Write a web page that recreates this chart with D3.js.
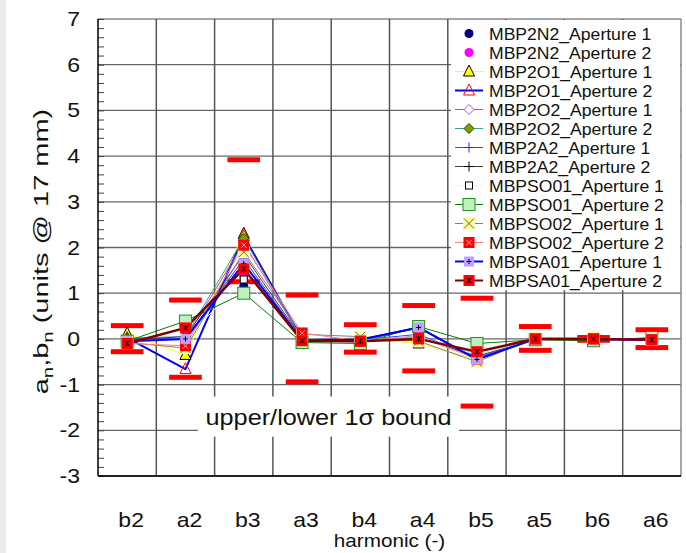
<!DOCTYPE html>
<html>
<head>
<meta charset="utf-8">
<script src="https://cdn.jsdelivr.net/npm/d3@7"></script>
<style>
  body { margin: 0; background: #fff; }
  text { font-family: "Liberation Sans", Arial, sans-serif; }
</style>
</head>
<body>
<div id="chart"></div>
<script>
const harmonics = ["b2", "a2", "b3", "a3", "b4", "a4", "b5", "a5", "b6", "a6"];
const yTicks = [-3, -2, -1, 0, 1, 2, 3, 4, 5, 6, 7];

// 1 sigma bounds per harmonic
const upperBound = [0.29, 0.85, 3.92, 0.96, 0.31, 0.73, 0.89, 0.27, 0.03, 0.20];
const lowerBound = [-0.28, -0.84, 1.25, -0.94, -0.29, -0.70, -1.47, -0.25, -0.03, -0.19];

// measured harmonics, one array per magnet aperture
const mbp2n2A1 = [-0.05, 0.05, 1.16, 0.00, -0.03, 0.05, -0.35, 0.00, 0.00, -0.02];
const mbp2n2A2 = [-0.05, 0.00, 1.36, 0.00, -0.03, 0.05, -0.35, 0.00, 0.00, -0.02];
const mbp2o1A1 = [0.12, -0.35, 2.30, 0.00, 0.03, -0.10, -0.45, 0.00, 0.00, -0.02];
const mbp2o1A2 = [0.02, -0.66, 2.25, 0.00, -0.02, 0.25, -0.45, 0.00, 0.00, -0.02];
const mbp2o2A1 = [0.00, 0.00, 2.10, 0.00, -0.02, 0.05, -0.40, 0.00, 0.00, -0.02];
const mbp2o2A2 = [0.02, 0.05, 2.20, 0.00, -0.03, 0.05, -0.35, 0.00, 0.00, -0.02];
const mbp2a2A1 = [0.00, 0.00, 1.75, -0.02, -0.02, 0.10, -0.42, 0.00, 0.00, -0.02];
const mbp2a2A2 = [-0.02, 0.05, 1.85, 0.00, -0.02, 0.05, -0.38, 0.00, 0.00, -0.02];
const mbpso01A1 = [-0.05, 0.00, 1.30, 0.00, -0.02, 0.05, -0.35, 0.00, 0.00, -0.02];
const mbpso01A2 = [-0.05, 0.39, 1.00, -0.08, -0.10, 0.27, -0.10, -0.02, -0.04, 0.03];
const mbpso02A1 = [-0.08, -0.20, 1.90, 0.10, 0.05, -0.05, -0.50, 0.02, 0.02, -0.02];
const mbpso02A2 = [-0.10, -0.15, 2.05, 0.13, -0.05, 0.05, -0.44, 0.00, 0.00, -0.02];
const mbpsa01A1 = [-0.05, 0.00, 1.65, -0.03, -0.02, 0.25, -0.45, 0.00, 0.00, -0.02];
const mbpsa01A2 = [-0.10, 0.24, 1.53, -0.04, -0.05, 0.00, -0.28, 0.00, 0.00, -0.02];

const series = [
  { name: "MBP2N2_Aperture 1", values: mbp2n2A1, line: null, lw: 0, marker: "circle", fill: "#000080", stroke: "#000080", size: 9 },
  { name: "MBP2N2_Aperture 2", values: mbp2n2A2, line: null, lw: 0, marker: "circle", fill: "#ff00ff", stroke: "#ff00ff", size: 9 },
  { name: "MBP2O1_Aperture 1", values: mbp2o1A1, line: "#ffff00", lw: 1, marker: "triangle", fill: "#ffff00", stroke: "#000", size: 11 },
  { name: "MBP2O1_Aperture 2", values: mbp2o1A2, line: "#0000ff", lw: 2, marker: "triangle", fill: "none", stroke: "#ff0000", size: 11 },
  { name: "MBP2O2_Aperture 1", values: mbp2o2A1, line: "#b050c0", lw: 1, marker: "diamond", fill: "#fff", stroke: "#b050c0", size: 10 },
  { name: "MBP2O2_Aperture 2", values: mbp2o2A2, line: "#40a0a0", lw: 1, marker: "diamond", fill: "#80a000", stroke: "#204000", size: 10 },
  { name: "MBP2A2_Aperture 1", values: mbp2a2A1, line: "#4040ff", lw: 1, marker: "plus", fill: "none", stroke: "#2020ff", size: 10 },
  { name: "MBP2A2_Aperture 2", values: mbp2a2A2, line: "#404040", lw: 1, marker: "plus", fill: "none", stroke: "#000", size: 10 },
  { name: "MBPSO01_Aperture 1", values: mbpso01A1, line: "#d8ffff", lw: 1, marker: "square", fill: "#fff", stroke: "#000", size: 7 },
  { name: "MBPSO01_Aperture 2", values: mbpso01A2, line: "#008000", lw: 1, marker: "square", fill: "#c0f0c0", stroke: "#209020", size: 12 },
  { name: "MBPSO02_Aperture 1", values: mbpso02A1, line: "#808080", lw: 1, marker: "xbox", fill: "#ffff99", stroke: "#606060", size: 12 },
  { name: "MBPSO02_Aperture 2", values: mbpso02A2, line: "#ff8080", lw: 1, marker: "sqx", fill: "#ff0000", stroke: "#ffb0b0", size: 11 },
  { name: "MBPSA01_Aperture 1", values: mbpsa01A1, line: "#0000ff", lw: 2, marker: "sqplus", fill: "#c0a0ff", stroke: "#000", size: 10 },
  { name: "MBPSA01_Aperture 2", values: mbpsa01A2, line: "#800000", lw: 2.5, marker: "sqstar", fill: "#ff0000", stroke: "#000", size: 11 }
];

const W = 686, H = 553;
const margin = { top: 19, right: 5, bottom: 77, left: 98 };
const stretch = 1.15;

const svg = d3.select("#chart").append("svg")
  .attr("width", W)
  .attr("height", H);

svg.append("rect").attr("width", W).attr("height", H).attr("fill", "#fff");
svg.append("rect").attr("width", 6).attr("height", H).attr("fill", "#ebebeb");

const x = d3.scaleBand().domain(harmonics).range([margin.left, W - margin.right]).padding(0);
const y = d3.scaleLinear().domain([-3, 7]).range([H - margin.bottom, margin.top]);
const cx = (d) => x(d) + x.bandwidth() / 2;

// grid
const grid = svg.append("g");
grid.selectAll(".hg").data(yTicks).join("line")
  .attr("x1", margin.left).attr("x2", W - margin.right)
  .attr("y1", (d) => y(d)).attr("y2", (d) => y(d))
  .attr("stroke", (d) => (d === 7 ? "#888" : "#666"))
  .attr("stroke-width", 1.3);
grid.selectAll(".vg").data(harmonics).join("line")
  .attr("x1", (d) => x(d) + x.bandwidth()).attr("x2", (d) => x(d) + x.bandwidth())
  .attr("y1", y(7)).attr("y2", y(-3))
  .attr("stroke", (d, i) => (i === harmonics.length - 1 ? "#888" : "#555"))
  .attr("stroke-width", 1.5);

// left axis with minor ticks
const yAxis = svg.append("g")
  .attr("transform", `translate(${margin.left},0)`)
  .call(d3.axisRight(y).tickValues(d3.range(-3, 7.001, 0.2)).tickSize(6).tickFormat(""));
yAxis.select(".domain").remove();
yAxis.selectAll(".tick line").attr("stroke", "#444");

svg.append("line")
  .attr("x1", margin.left).attr("x2", margin.left)
  .attr("y1", y(7)).attr("y2", y(-3))
  .attr("stroke", "#000").attr("stroke-width", 1.5);
svg.append("line")
  .attr("x1", margin.left).attr("x2", W - margin.right)
  .attr("y1", y(-3)).attr("y2", y(-3))
  .attr("stroke", "#000").attr("stroke-width", 1.5);

// tick labels
svg.selectAll(".ylab").data(yTicks).join("text")
  .attr("transform", (d) => `translate(80,${y(d) + 7}) scale(${stretch},1)`)
  .attr("text-anchor", "end")
  .attr("font-size", 20)
  .attr("fill", "#111")
  .text((d) => d);

svg.selectAll(".xlab").data(harmonics).join("text")
  .attr("transform", (d) => `translate(${cx(d) + 4},${H - 26}) scale(${stretch},1)`)
  .attr("text-anchor", "middle")
  .attr("font-size", 20)
  .attr("fill", "#111")
  .text((d) => d);

svg.append("text")
  .attr("transform", `translate(${(margin.left + W - margin.right) / 2},${H - 6}) scale(${stretch},1)`)
  .attr("text-anchor", "middle")
  .attr("font-size", 18)
  .attr("fill", "#111")
  .text("harmonic (-)");

const ylab = svg.append("text")
  .attr("transform", `translate(48,${(y(7) + y(-3)) / 2 + 4}) rotate(-90) scale(1.45,1)`)
  .attr("text-anchor", "middle")
  .attr("font-size", 20)
  .attr("fill", "#111");
ylab.append("tspan").text("a");
ylab.append("tspan").attr("font-size", 14).attr("dy", 5).text("n");
ylab.append("tspan").attr("dy", -5).text(",b");
ylab.append("tspan").attr("font-size", 14).attr("dy", 5).text("n");
ylab.append("tspan").attr("dy", -5).text(" (units @ 17 mm)");

// annotation with white box
svg.append("rect")
  .attr("x", 198).attr("y", y(-1.26)).attr("width", 261).attr("height", y(-2.14) - y(-1.26))
  .attr("fill", "#fff");
svg.append("text")
  .attr("transform", `translate(${(198 + 459) / 2},${y(-1.88)}) scale(${stretch},1)`)
  .attr("text-anchor", "middle")
  .attr("font-size", 22)
  .attr("fill", "#111")
  .text("upper/lower 1\u03c3 bound");

// bound bars
const barW = x.bandwidth() * 0.56;
const bounds = svg.append("g");
[upperBound, lowerBound].forEach((arr) => {
  bounds.selectAll(null).data(harmonics).join("rect")
    .attr("x", (d) => cx(d) - barW / 2)
    .attr("y", (d, i) => y(arr[i]) - 2.5)
    .attr("width", barW)
    .attr("height", 5)
    .attr("fill", "#ff0000");
});

// marker drawing
function drawMarker(g, s, px, py) {
  const r = s.size / 2;
  const m = g.append("g").attr("transform", `translate(${px},${py})`);
  if (s.marker === "circle") {
    m.append("circle").attr("r", r).attr("fill", s.fill);
  } else if (s.marker === "triangle") {
    m.append("path").attr("d", `M0,${-r - 1}L${r},${r - 1}L${-r},${r - 1}Z`)
      .attr("fill", s.fill).attr("stroke", s.stroke).attr("stroke-width", 1);
  } else if (s.marker === "diamond") {
    m.append("path").attr("d", `M0,${-r}L${r},0L0,${r}L${-r},0Z`)
      .attr("fill", s.fill).attr("stroke", s.stroke).attr("stroke-width", 1);
  } else if (s.marker === "plus") {
    m.append("path").attr("d", `M${-r},0H${r}M0,${-r}V${r}`)
      .attr("stroke", s.stroke).attr("stroke-width", 1);
  } else if (s.marker === "square") {
    m.append("rect").attr("x", -r).attr("y", -r).attr("width", 2 * r).attr("height", 2 * r)
      .attr("fill", s.fill).attr("stroke", s.stroke).attr("stroke-width", 1);
  } else {
    m.append("rect").attr("x", -r).attr("y", -r).attr("width", 2 * r).attr("height", 2 * r)
      .attr("fill", s.fill);
    const k = r * 0.5;
    let d = "";
    if (s.marker === "xbox") d = `M${-r + 1},${-r + 1}L${r - 1},${r - 1}M${r - 1},${-r + 1}L${-r + 1},${r - 1}`;
    if (s.marker === "sqx") d = `M${-k},${-k}L${k},${k}M${k},${-k}L${-k},${k}`;
    if (s.marker === "sqplus") d = `M${-k},0H${k}M0,${-k}V${k}`;
    if (s.marker === "sqstar") d = `M${-k},${-k}L${k},${k}M${k},${-k}L${-k},${k}M0,${-k}V${k}`;
    m.append("path").attr("d", d).attr("stroke", s.stroke).attr("stroke-width", 1);
  }
}

const line = d3.line().x((d, i) => cx(harmonics[i])).y((d) => y(d));
const plot = svg.append("g");
series.forEach((s) => {
  if (s.line) {
    plot.append("path")
      .attr("d", line(s.values))
      .attr("fill", "none")
      .attr("stroke", s.line)
      .attr("stroke-width", s.lw);
  }
});
series.forEach((s) => {
  s.values.forEach((v, i) => drawMarker(plot, s, cx(harmonics[i]), y(v)));
});

// legend
const legend = svg.append("g");
legend.append("rect")
  .attr("x", 451).attr("y", y(7) + 1)
  .attr("width", W - margin.right - 452).attr("height", y(1) - y(7) - 4)
  .attr("fill", "#fff");
series.forEach((s, i) => {
  const ly = 33.5 + 19 * i;
  const row = legend.append("g");
  if (s.line) {
    row.append("line")
      .attr("x1", 455).attr("x2", 483).attr("y1", ly).attr("y2", ly)
      .attr("stroke", s.line).attr("stroke-width", Math.min(s.lw, 2));
  }
  drawMarker(row, s, 469, ly);
  row.append("text")
    .attr("transform", `translate(489,${ly + 6}) scale(1.1,1)`)
    .attr("font-size", 16)
    .attr("fill", "#111")
    .text(s.name);
});
</script>
</body>
</html>
